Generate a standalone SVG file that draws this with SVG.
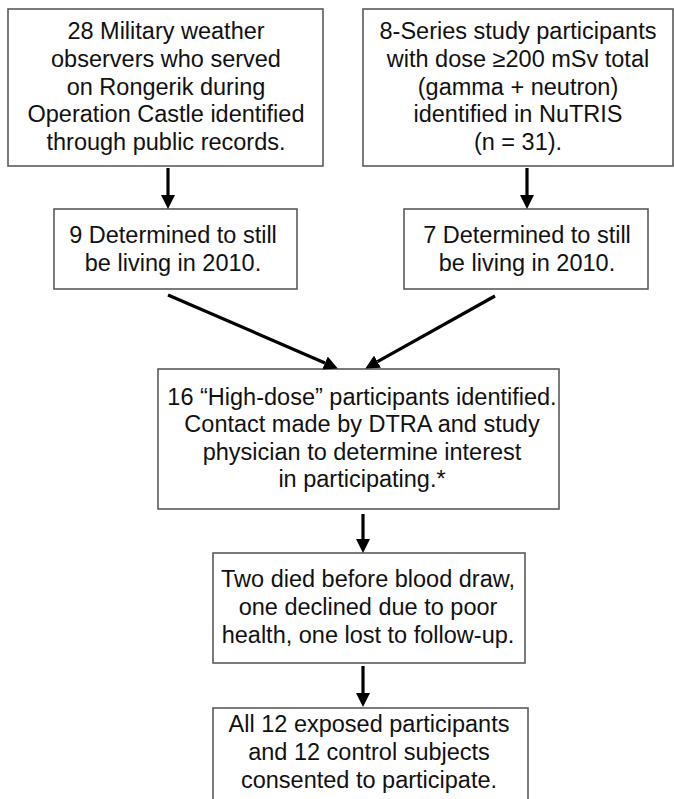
<svg xmlns="http://www.w3.org/2000/svg" width="674" height="799" viewBox="0 0 674 799">
<defs>
<style>
.box{fill:#fff;stroke:#5a5a5a;stroke-width:1.6}
.t{font-family:"Liberation Sans",Arial,sans-serif;font-size:23.5px;fill:#111;text-anchor:middle}
.c{stroke:#000;stroke-width:3.2;fill:none}
</style>
<marker id="ah" markerUnits="userSpaceOnUse" markerWidth="14" markerHeight="14" refX="0" refY="6.5" orient="auto" viewBox="0 0 13 13">
<path d="M0,0 L13,6.5 L0,13 z" fill="#000"/>
</marker>
</defs>
<rect width="674" height="799" fill="#fff"/>
<g id="n1">
<rect class="box" x="8" y="9" width="315" height="157"/>
<text class="t" x="166" y="39">28 Military weather</text>
<text class="t" x="166" y="67">observers who served</text>
<text class="t" x="166" y="95">on Rongerik during</text>
<text class="t" x="166" y="122">Operation Castle identified</text>
<text class="t" x="166" y="150">through public records.</text>
</g>
<g id="n2">
<rect class="box" x="363" y="9" width="310" height="157"/>
<text class="t" x="518" y="39">8-Series study participants</text>
<text class="t" x="518" y="67">with dose ≥200 mSv total</text>
<text class="t" x="518" y="95">(gamma + neutron)</text>
<text class="t" x="518" y="122">identified in NuTRIS</text>
<text class="t" x="518" y="150">(n = 31).</text>
</g>
<g id="n3">
<rect class="box" x="54" y="209" width="243" height="80"/>
<text class="t" x="173" y="243">9 Determined to still</text>
<text class="t" x="173" y="271">be living in 2010.</text>
</g>
<g id="n4">
<rect class="box" x="404" y="209" width="244" height="80"/>
<text class="t" x="527" y="243">7 Determined to still</text>
<text class="t" x="527" y="271">be living in 2010.</text>
</g>
<g id="n5">
<rect class="box" x="158" y="369" width="401" height="140"/>
<text class="t" x="362" y="405">16 “High-dose” participants identified.</text>
<text class="t" x="362" y="432">Contact made by DTRA and study</text>
<text class="t" x="362" y="460">physician to determine interest</text>
<text class="t" x="362" y="487">in participating.*</text>
</g>
<g id="n6">
<rect class="box" x="213" y="553" width="312" height="110"/>
<text class="t" x="368" y="587">Two died before blood draw,</text>
<text class="t" x="368" y="615">one declined due to poor</text>
<text class="t" x="368" y="643">health, one lost to follow-up.</text>
</g>
<g id="n7">
<rect class="box" x="213" y="708" width="315" height="110"/>
<text class="t" x="369" y="732">All 12 exposed participants</text>
<text class="t" x="369" y="760">and 12 control subjects</text>
<text class="t" x="369" y="788">consented to participate.</text>
</g>
<g id="connectors">
<line class="c" x1="168" y1="168" x2="168" y2="195" marker-end="url(#ah)"/>
<line class="c" x1="527" y1="168" x2="527" y2="195" marker-end="url(#ah)"/>
<line class="c" x1="168" y1="295" x2="325" y2="363" marker-end="url(#ah)"/>
<line class="c" x1="495" y1="296" x2="377.5" y2="361.7" marker-end="url(#ah)"/>
<line class="c" x1="363" y1="514" x2="363" y2="539" marker-end="url(#ah)"/>
<line class="c" x1="363" y1="666" x2="363" y2="693" marker-end="url(#ah)"/>
</g>
</svg>
